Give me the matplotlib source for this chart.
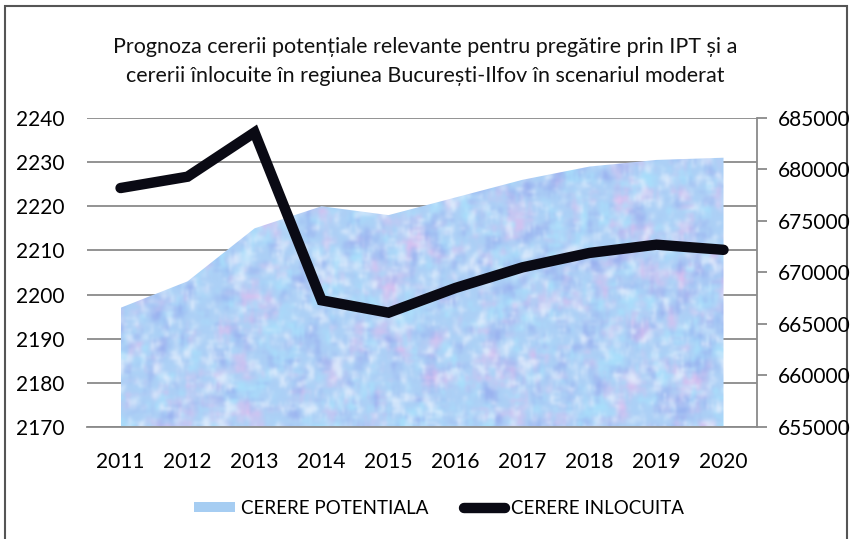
import numpy as np
import matplotlib.pyplot as plt
from matplotlib.patches import Patch, Rectangle
from matplotlib.lines import Line2D

years = ['2011', '2012', '2013', '2014', '2015', '2016', '2017', '2018', '2019', '2020']
cerere_potentiala = [2197, 2203, 2215, 2220, 2218, 2222, 2226, 2229, 2230.5, 2231]
cerere_inlocuita = [678200, 679300, 683600, 667300, 666100, 668500, 670500, 671900, 672700, 672200]

title = ('Prognoza cererii potențiale relevante pentru pregătire prin IPT și a\n'
         'cererii înlocuite în regiunea București-Ilfov în scenariul moderat')

plt.rcParams['font.family'] = ['Lato', 'DejaVu Sans']

fig = plt.figure(figsize=(8.5, 5.39), dpi=100)
ax = fig.add_axes([0.1024, 0.2078, 0.7882, 0.5733])
ax2 = ax.twinx()

x = np.arange(len(years))

# mottled texture for the area fill (blue / cyan / lavender / pink)
rng = np.random.default_rng(11)
h, w = 110, 240
def blur(a, r=2):
    out = np.zeros_like(a)
    for dy in range(-r, r + 1):
        for dx in range(-r, r + 1):
            out += np.roll(np.roll(a, dy, 0), dx, 1)
    return (out - out.mean()) / out.std()
base = np.array([172, 208, 246]) / 255
cols = [(np.array([228, 188, 238]) / 255, 0.30, 3),   # pink
        (np.array([168, 224, 252]) / 255, 0.45, 2),   # cyan
        (np.array([150, 172, 238]) / 255, 0.30, 2),   # violet blue
        (np.array([226, 238, 253]) / 255, 0.35, 1)]   # near white
img = np.ones((h, w, 3)) * base
for c, k, r in cols:
    wgt = np.clip(blur(rng.random((h, w)), r) * k, 0, 0.85)[..., None]
    img = img + wgt * (c - img)
img = np.clip(img, 0, 1)

poly = ax.fill_between(x, cerere_potentiala, 2170, color='none', lw=0, zorder=2)
im = ax.imshow(img, extent=(x[0], x[-1], 2170, 2240), aspect='auto',
               origin='lower', zorder=2, interpolation='bicubic')
im.set_clip_path(poly.get_paths()[0], transform=ax.transData)

ax.set_xlim(-0.5, len(years) - 0.5)
ax.set_ylim(2170, 2240)
ax.set_yticks(np.arange(2170, 2241, 10))
ax.set_xticks(x)
ax.set_xticklabels(years)
ax.grid(axis='y', color='#8a8a8a', lw=1.3, zorder=0)
ax.set_axisbelow(True)
for s in ['top', 'left', 'right']:
    ax.spines[s].set_visible(False)
ax.spines['bottom'].set_color('#8a8a8a')
ax.spines['bottom'].set_linewidth(1.3)
ax.tick_params(axis='y', length=0, pad=16, labelsize=15)
ax.tick_params(axis='x', length=0, pad=18, labelsize=15)

ax2.plot(x, cerere_inlocuita, color='#0a0a14', lw=7.5, solid_capstyle='round',
         solid_joinstyle='miter', zorder=5)
ax2.set_ylim(655000, 685000)
ax2.set_yticks(np.arange(655000, 685001, 5000))
for s in ['top', 'left', 'bottom']:
    ax2.spines[s].set_visible(False)
ax2.spines['right'].set_color('#8a8a8a')
ax2.spines['right'].set_linewidth(1.3)
ax2.tick_params(axis='y', length=7, width=1.3, color='#8a8a8a', pad=8, labelsize=15)
ax2.patch.set_visible(False)
ax.set_zorder(1)
ax2.set_zorder(2)

fig.text(0.5, 0.886, title, ha='center', va='center', fontsize=15.5,
         linespacing=1.6, color='#111111')

handles = [Patch(facecolor='#a6cdf2', edgecolor='none'),
           Line2D([0], [0], color='#0a0a14', lw=7.5, solid_capstyle='round')]
fig.legend(handles, ['CERERE POTENTIALA', 'CERERE INLOCUITA'], loc='center',
           bbox_to_anchor=(0.516, 0.0575), ncol=2, frameon=False,
           prop={'size': 13.5}, handlelength=2.2, handleheight=0.5,
           handletextpad=0.3, columnspacing=1.9)

fig.add_artist(Rectangle((0.006, -0.02), 0.991, 1.009, transform=fig.transFigure,
                         fill=False, edgecolor='#555555', lw=1.5))

fig.savefig('out.png', dpi=100)
